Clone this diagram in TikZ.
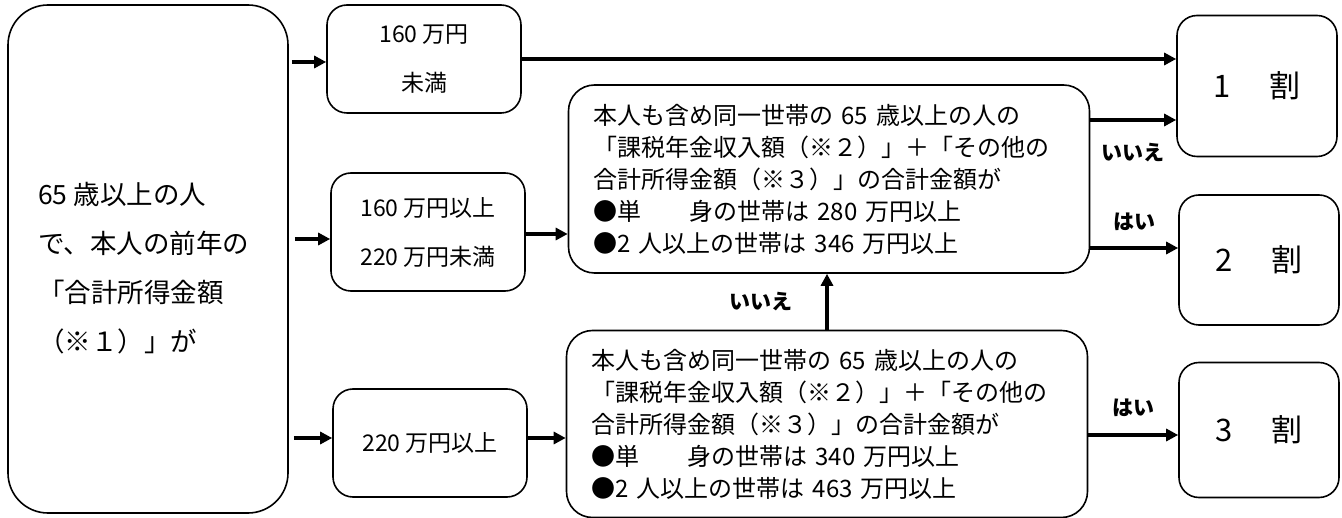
\documentclass[tikz,border=0pt]{standalone}
\usepackage{fontspec}
\setmainfont{Noto Sans CJK JP}
\usetikzlibrary{arrows.meta}
\begin{document}
\begin{tikzpicture}[x=1pt, y=-1pt, line join=round, >={Triangle[length=12pt,width=12pt]},
	box/.style={draw, line width=1.6pt, rounded corners=20pt, inner sep=0pt, align=center},
	cond/.style={box, rounded corners=26pt, minimum width=521pt, minimum height=187pt, inner xsep=25pt, text width=471pt, align=left, font=\fontsize{24}{32}\selectfont},
	arr/.style={->, line width=4pt},
	ans/.style={inner sep=0pt, font=\fontsize{21}{21}\selectfont\bfseries}]
	\def\wa{194pt} \def\wr{160pt}
	\useasboundingbox (0,0) rectangle (1342,518);
	% left column
	\node[box, rounded corners=40pt, minimum width=280pt, minimum height=508pt] (start) at (148,259) {};
	\node[anchor=west, align=left, inner sep=0pt, font=\fontsize{26.5}{49}\selectfont] (starttxt) at (38,268)
		{65 歳以上の人\\で、本人の前年の\\「合計所得金額\\（※１）」が};
	% income ranges
	\node[box, minimum width=\wa, minimum height=108pt, font=\fontsize{23}{49}\selectfont] (a1) at (424,59) {160 万円\\未満};
	\node[box, minimum width=\wa, minimum height=118pt, font=\fontsize{23}{49}\selectfont] (a2) at (428,232) {160 万円以上\\220 万円未満};
	\node[box, minimum width=\wa, minimum height=108pt, font=\fontsize{23}{49}\selectfont] (a3) at (430,443) {220 万円以上};
	% conditions
	\node[cond, minimum height=188pt] (b1) at (829,179) {本人も含め同一世帯の 65 歳以上の人の\\「課税年金収入額（※２）」＋「その他の\\合計所得金額（※３）」の合計金額が\\●単　　身の世帯は 280 万円以上\\●2 人以上の世帯は 346 万円以上};
	\node[cond] (b2) at (827,424) {本人も含め同一世帯の 65 歳以上の人の\\「課税年金収入額（※２）」＋「その他の\\合計所得金額（※３）」の合計金額が\\●単　　身の世帯は 340 万円以上\\●2 人以上の世帯は 463 万円以上};
	% results
	\node[box, minimum width=\wr, minimum height=141pt, font=\fontsize{31}{31}\selectfont] (r1) at (1257,86) {1\hspace{39pt}割};
	\node[box, minimum width=\wr, minimum height=130pt, font=\fontsize{31}{31}\selectfont] (r2) at (1259,260) {2\hspace{39pt}割};
	\node[box, minimum width=\wr, minimum height=135pt, font=\fontsize{31}{31}\selectfont] (r3) at (1259,430) {3\hspace{39pt}割};
	% arrows
	\draw[arr, shorten <=3pt] ([yshift=-3pt]start.east |- a1.west) -- ([yshift=-3pt]a1.west);
	\draw[arr, shorten <=6pt] ([yshift=-7pt]start.east |- a2.west) -- ([yshift=-7pt]a2.west);
	\draw[arr, shorten <=5pt] ([yshift=5pt]start.east |- a3.west) -- ([yshift=5pt]a3.west);
	\draw[arr] (a1.east) -- (a1.east -| r1.west);
	\draw[arr] ([yshift=-2pt]a2.east) -- ([yshift=-2pt]a2.east -| b1.west);
	\draw[arr] ([yshift=5pt]a3.east) -- ([yshift=5pt]a3.east -| b2.west);
	\draw[arr] ([yshift=59pt]b1.east) -- node[ans, below=21pt]{いいえ} ([yshift=59pt]b1.east -| r1.west);
	\draw[arr] ([yshift=-69pt]b1.east) -- node[ans, above=15pt]{はい} ([yshift=-69pt]b1.east -| r2.west);
	\draw[arr] (b2.north) -- node[ans, left=33pt]{いいえ} (b2.north |- b1.south);
	\draw[arr] ([yshift=-11pt]b2.east) -- node[ans, above=16pt]{はい} ([yshift=-11pt]b2.east -| r3.west);
\end{tikzpicture}
\end{document}
